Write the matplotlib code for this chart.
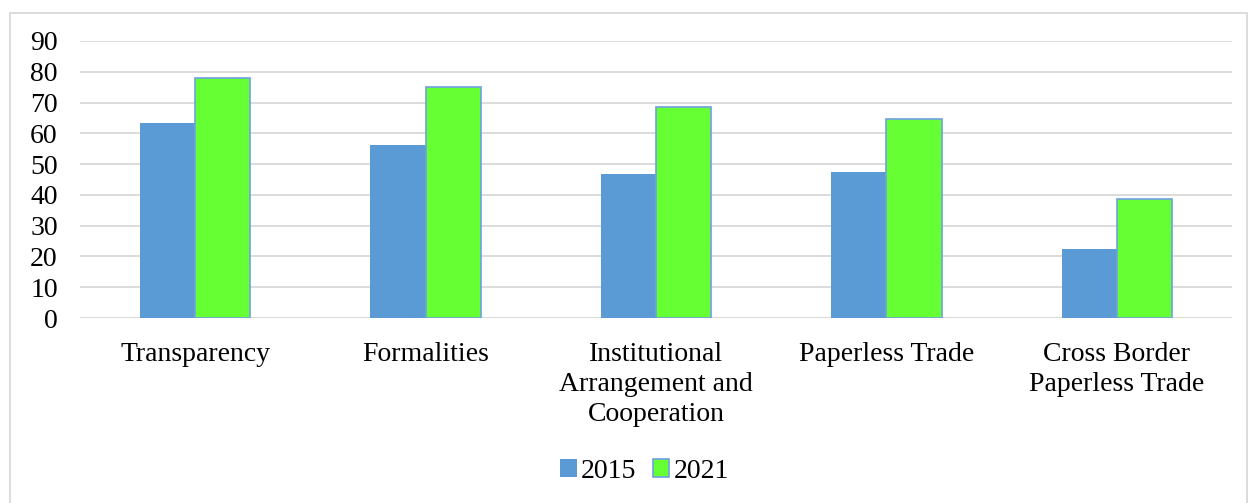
import matplotlib
matplotlib.use("Agg")
import matplotlib.pyplot as plt
import numpy as np
from matplotlib.patches import Rectangle

categories = ["Transparency", "Formalities", "Institutional\nArrangement and\nCooperation",
              "Paperless Trade", "Cross Border\nPaperless Trade"]
series_names = ["2015", "2021"]
values_2015 = [63.3, 56.3, 46.8, 47.5, 22.5]
values_2021 = [78, 75, 68.7, 64.5, 38.7]
yticks = [0, 10, 20, 30, 40, 50, 60, 70, 80, 90]

plt.rcParams['font.family'] = ['Liberation Serif', 'DejaVu Serif']

W, H = 1248, 503
fig = plt.figure(figsize=(W / 100, H / 100), dpi=100)
ax = fig.add_axes([80 / W, 1 - 318 / H, (1232 - 80) / W, (318 - 41) / H])

x = np.arange(len(categories))
bw = 0.24
ax.bar(x - bw / 2, values_2015, bw, color="#5b9bd5", label=series_names[0], zorder=3)
ax.bar(x + bw / 2, values_2021, bw, color="#66ff33", edgecolor="#6fa0e0", linewidth=1.2,
       label=series_names[1], zorder=3)

ax.set_xlim(-0.5, len(categories) - 0.5)
ax.set_ylim(0, 90)
ax.set_yticks(yticks)
ax.set_yticklabels([str(v) for v in yticks], fontsize=20)
ax.set_xticks(x)
ax.set_xticklabels(categories, fontsize=20, linespacing=1.27, va="top")
ax.tick_params(axis="both", length=0)
ax.tick_params(axis="y", pad=16)
ax.tick_params(axis="x", pad=17)
ax.yaxis.grid(True, color="#d9d9d9", linewidth=1.3, zorder=0)
for s in ax.spines.values():
    s.set_visible(False)
ax.axhline(0, color="#d9d9d9", linewidth=1.3, zorder=2)

leg = ax.legend(loc="center", bbox_to_anchor=(0.49, (318 - 471) / (318 - 41)), ncol=2,
                frameon=False, fontsize=20, handlelength=0.6, handleheight=0.6,
                handletextpad=0.15, columnspacing=0.6)

fig.patches.append(Rectangle((10 / W, -0.05), (W - 11) / W, 1.05 - 13 / H, transform=fig.transFigure,
                             fill=False, edgecolor="#d9d9d9", linewidth=1.3))

fig.savefig("out.png", dpi=100)
